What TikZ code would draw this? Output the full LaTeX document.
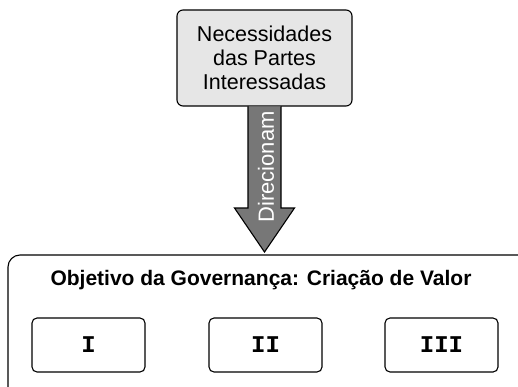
\documentclass[tikz,border=0pt]{standalone}
\usepackage{fontspec}
\setmainfont{Liberation Sans}
\setmonofont{Liberation Mono}
\usepackage{tikz}
\usetikzlibrary{calc}
\definecolor{boxgray}{HTML}{E6E6E6}
\definecolor{arrowgray}{HTML}{777777}
\tikzset{
  needbox/.style={draw,line width=1.1pt,rounded corners=6pt,fill=boxgray,minimum width=175pt,minimum height=96pt,align=center,font=\fontsize{21.5}{24}\selectfont},
  romanbox/.style={draw,line width=1.1pt,rounded corners=5pt,minimum width=113pt,minimum height=54pt,font=\fontsize{24}{26}\selectfont\ttfamily\bfseries},
  bigarrow/.style={draw,line width=1.1pt,fill=arrowgray,line join=miter},
  arrowtext/.style={text=white,rotate=90,inner sep=0pt,font=\fontsize{22}{24}\selectfont}
}

\begin{document}
\begin{tikzpicture}[line cap=round,line join=round,x=1pt,y=1pt]
\useasboundingbox (0,0) rectangle (518,-387);
\clip (0,0) rectangle (518,-387);
\node[needbox] (need) at (264.5,-58) {Necessidades\\das Partes\\Interessadas};
\draw [line width=1.1pt,rounded corners=12pt] (8,-420) -- (8,-255) -- (530,-255) -- (530,-420);
\node[font=\fontsize{21}{24}\selectfont\bfseries] (obj) at (261,-280) {Objetivo da Governança: Criação de Valor};
% fat arrow from the top box down to the frame
\coordinate (tip) at (264.5,-252);
\draw[bigarrow] ($(need.south)+(-16.5,0)$) -- ($(need.south |- 0,-208)+(-16.5,0)$)
  -- ($(need.south |- 0,-208)+(-30,0)$) -- (tip) -- ($(need.south |- 0,-208)+(30,0)$)
  -- ($(need.south |- 0,-208)+(16.5,0)$) -- ($(need.south)+(16.5,0)$);
\node[arrowtext] (dir) at (266,-167) {Direcionam};
\node[romanbox] (r1) at (88.5,-345) {I};
\node[romanbox] (r2) at (265.5,-345) {II};
\node[romanbox] (r3) at (441.5,-345) {III};
\end{tikzpicture}
\end{document}
